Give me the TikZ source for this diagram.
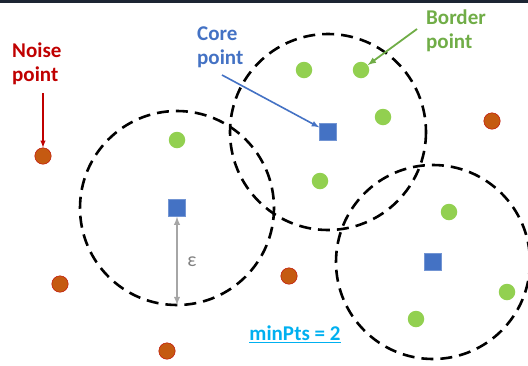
\documentclass[tikz,border=0pt]{standalone}
\usepackage{fontspec}
\setmainfont{Carlito}
\usepackage{tikz}
\usetikzlibrary{arrows, positioning}
\definecolor{corebl}{HTML}{4472C4}
\definecolor{bordgr}{HTML}{92D050}
\definecolor{bordtx}{HTML}{70AD47}
\definecolor{noiseor}{HTML}{C55A11}
\definecolor{noisetx}{HTML}{C00000}
\definecolor{minpts}{HTML}{00B0F0}
\definecolor{topbar}{HTML}{1C2533}

\begin{document}
\begin{tikzpicture}[x=1pt, y=-1pt, >=latex]
		\tikzset{core/.style={rectangle, fill=corebl, draw=corebl!75!white, inner sep=0, minimum size=17pt}}
		\tikzset{border/.style={circle, fill=bordgr, inner sep=0, minimum size=16.5pt}}
		\tikzset{noise/.style={circle, fill=noiseor, draw=red!75!black, inner sep=0, minimum size=16.5pt}}
		\tikzset{eps/.style={draw=black, dash pattern=on 12pt off 7pt, line width=2.6pt}}
		\tikzset{lbl/.style={font=\bfseries\fontsize{21}{23.5}\selectfont, align=left, inner sep=0, anchor=north west}}
		\useasboundingbox (0,0) rectangle (528,365);
		\fill[topbar] (0,0) rectangle (528,2.5);
		% core points
		\node[core] at (177,208) (c1) {};
		\node[core] at (328,132) (c2) {};
		\node[core] at (433,262) (c3) {};
		% border points
		\node[border] at (177,140) (b1) {};
		\node[border] at (304,70) (b2) {};
		\node[border] at (361,70) (b3) {};
		\node[border] at (383,117) (b4) {};
		\node[border] at (320,181) (b5) {};
		\node[border] at (449,212) (b6) {};
		\node[border] at (507,292) (b7) {};
		\node[border] at (416,319) (b8) {};
		% noise points
		\node[noise] at (43,156) (n1) {};
		\node[noise] at (492,121) (n2) {};
		\node[noise] at (60,284) (n3) {};
		\node[noise] at (167,351) (n4) {};
		\node[noise] at (289,276) (n5) {};
		% neighbourhoods
		\draw[eps] (c1) circle [radius=97];
		\draw[eps] (c2) circle [radius=98];
		\draw[eps] (c3) circle [radius=97];
		% labels
		\node[lbl, text=noisetx] at (12,43) (noiselbl) {Noise\\point};
		\node[lbl, text=corebl] at (197,27) (corelbl) {Core\\point};
		\node[lbl, text=bordtx] at (426,10) (bordlbl) {Border\\point};
		\coordinate (noisetail) at (43,93);
		\coordinate (coretail) at (222,75);
		\coordinate (bordtail) at (417,29);
		\draw[->, noisetx, line width=1.4pt] (noisetail) -- (n1);
		\draw[->, corebl, line width=1.6pt] (coretail) -- (c2);
		\draw[->, bordtx, line width=1.8pt] (bordtail) -- (b3);
		% epsilon
		\coordinate (rim) at (177,305);
		\draw[<->, gray!70, line width=1.8pt] (c1.south) -- (rim);
		\node[text=gray, font=\fontsize{20}{22}\selectfont] at (192,262) (epslbl) {ε};
		\node[text=minpts, font=\bfseries\fontsize{21}{23}\selectfont] at (295,334) (mplbl) {\underline{minPts = 2}};
	\end{tikzpicture}
\end{document}
